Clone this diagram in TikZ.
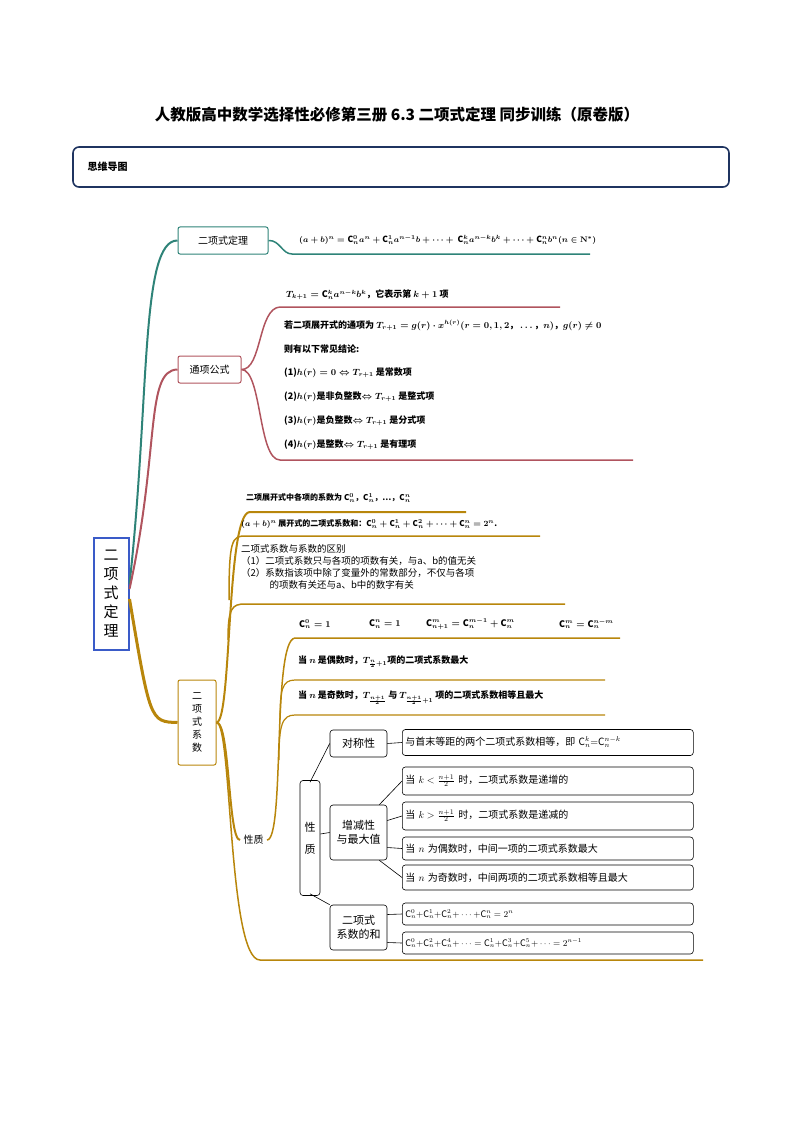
\documentclass[tikz,border=0pt]{standalone}
\usepackage{fontspec}
\setmainfont{Noto Sans CJK SC}
\usepackage{amsmath,amssymb}
\begin{document}
\begin{tikzpicture}[x=1pt,y=-1pt,
 tx/.style={anchor=west,inner sep=1pt,font=\fontsize{9}{11}\selectfont\bfseries\boldmath},
 rb/.style={draw,rounded corners=3pt,line width=0.6pt,anchor=west,text width=285,align=left,inner xsep=3pt,inner ysep=1pt,font=\fontsize{10}{12}\selectfont},
 ln/.style={line width=0.6pt}]
\useasboundingbox (0,0) rectangle (794,1123);
\definecolor{teal1}{HTML}{2E8378}\definecolor{red1}{HTML}{B0545E}\definecolor{gold1}{HTML}{B8860B}
\definecolor{navy}{HTML}{1F3460}\definecolor{blu}{HTML}{3A5BC8}
\node[font=\fontsize{15.5}{18}\selectfont\bfseries] (title) at (397,115) {人教版高中数学选择性必修第三册 6.3 二项式定理 同步训练（原卷版）};
\draw[navy,line width=1.6pt,rounded corners=6pt] (73,147) rectangle (729,187);
\node[anchor=west,font=\fontsize{10}{12}\selectfont\bfseries] (sw) at (84,167) {思维导图};
% root
\node[draw=blu,line width=2pt,minimum width=35,minimum height=112,align=center,font=\fontsize{15}{19}\selectfont,inner sep=1pt] (root) at (111,594) {二\\项\\式\\定\\理};
% branch 1
\node[draw=teal1,line width=1pt,rounded corners=2pt,minimum width=90,minimum height=27,font=\fontsize{10}{12}\selectfont] (b1) at (223,240.5) {二项式定理};
\draw[teal1,line width=2pt] (root.east) ++(0,-10) .. controls (150,400) and (140,240) .. (b1.west);
\node[tx,font=\fontsize{8.5}{11}\selectfont\bfseries\boldmath] (f1) at (298,240) {$(a+b)^n=\mathrm{C}_n^0a^n+\mathrm{C}_n^1a^{n-1}b+\dots+\ \mathrm{C}_n^ka^{n-k}b^k+\dots+\mathrm{C}_n^nb^n(n\in\mathbf{N}^*)$};
\draw[teal1,line width=1.5pt] (b1.east) .. controls (280,240) and (282,254) .. (292,254) -- (590,254);
% branch 2
\node[draw=red1,line width=1pt,rounded corners=2pt,minimum width=63,minimum height=27,font=\fontsize{10}{12}\selectfont] (b2) at (209.5,369.5) {通项公式};
\draw[red1,line width=2pt] (root.east) ++(0,-5) .. controls (160,450) and (145,370) .. (b2.west);
\draw[red1,line width=1.5pt] (b2.east) .. controls (262,370) and (258,308) .. (280,307) -- (560,307);
\draw[red1,line width=1.5pt] (b2.east) .. controls (262,370) and (258,460) .. (280,460) -- (633,460);
\node[tx] (t0) at (285,295) {$T_{k+1}=\mathrm{C}_n^ka^{n-k}b^k$，它表示第 $k+1$ 项};
\node[tx] (t1) at (283,325) {若二项展开式的通项为 $T_{r+1}=g(r)\cdot x^{h(r)}(r=0,1,2，\dots，n)$，$g(r)\neq0$};
\node[tx] (t2) at (283,349) {则有以下常见结论:};
\node[tx] (t3) at (283,373) {(1)$h(r)=0\Leftrightarrow T_{r+1}$ 是常数项};
\node[tx] (t4) at (283,397) {(2)$h(r)$是非负整数$\Leftrightarrow T_{r+1}$ 是整式项};
\node[tx] (t5) at (283,421) {(3)$h(r)$是负整数$\Leftrightarrow T_{r+1}$ 是分式项};
\node[tx] (t6) at (283,445) {(4)$h(r)$是整数$\Leftrightarrow T_{r+1}$ 是有理项};
% branch 3
\node[draw=gold1,line width=1pt,rounded corners=2pt,minimum width=38,minimum height=85,align=center,font=\fontsize{10}{13}\selectfont] (b3) at (197,722.5) {二\\项\\式\\系\\数};
\draw[gold1,line width=3pt] (root.east) ++(0,5) .. controls (150,720) and (150,722) .. (b3.west);
\draw[gold1,line width=2pt] (b3.east) .. controls (232,722) and (226,512) .. (250,512) -- (466,512);
\draw[gold1,line width=1.5pt] (229,600) .. controls (229,540) and (232,536) .. (245,536) -- (540,536);
\draw[gold1,line width=1.5pt] (228,640) .. controls (228,608) and (232,604) .. (245,604) -- (565,604);
\node[anchor=west,font=\fontsize{10}{12}\selectfont] (xz) at (240,840) {性质};
\draw[gold1,line width=2pt] (b3.east) .. controls (230,722) and (228,840) .. (xz.west);
\draw[gold1,line width=1.5pt] (b3.east) .. controls (232,722) and (228,960) .. (260,960) -- (703,960);
\draw[gold1,line width=1.5pt] (xz.east) .. controls (285,840) and (272,640) .. (295,638) -- (620,638);
\draw[gold1,line width=1.2pt] (280,720) .. controls (280,690) and (282,680) .. (295,680) -- (605,680);
\draw[gold1,line width=1.2pt] (279,760) .. controls (279,725) and (282,715) .. (295,715) -- (605,715);
\node[tx] (g1) at (245,498) {\fontsize{8}{10}\selectfont 二项展开式中各项的系数为 $\mathrm{C}_n^0$，$\mathrm{C}_n^1$，…，$\mathrm{C}_n^n$};
\node[tx] (g2) at (240,524) {\fontsize{8}{10}\selectfont $(a+b)^n$ 展开式的二项式系数和：$\mathrm{C}_n^0+\mathrm{C}_n^1+\mathrm{C}_n^2+\dots+\mathrm{C}_n^n=2^n$.};
\node[anchor=north west,align=left,inner sep=1pt,font=\fontsize{9.5}{12}\selectfont] (g3) at (240,543) {二项式系数与系数的区别\\（1）二项式系数只与各项的项数有关，与a、b的值无关\\（2）系数指该项中除了变量外的常数部分，不仅与各项\\\hspace{3em}的项数有关还与a、b中的数字有关};
\node[tx] (c1) at (298,624) {$\mathrm{C}_n^0=1$};
\node[tx] (c2) at (368,624) {$\mathrm{C}_n^n=1$};
\node[tx] (c3) at (425,624) {$\mathrm{C}_{n+1}^m=\mathrm{C}_n^{m-1}+\mathrm{C}_n^m$};
\node[tx] (c4) at (558,624) {$\mathrm{C}_n^m=\mathrm{C}_n^{n-m}$};
\node[tx] (d1) at (297,662) {当 $n$ 是偶数时，$T_{\frac n2+1}$项的二项式系数最大};
\node[tx] (d2) at (297,698) {当 $n$ 是奇数时，$T_{\frac{n+1}2}$ 与 $T_{\frac{n+1}2+1}$ 项的二项式系数相等且最大};
% table
\node[draw,rounded corners=3pt,line width=0.6pt,minimum width=20,minimum height=115,align=center,font=\fontsize{11}{22}\selectfont] (xzb) at (310,838) {性\\质};
\node[draw,rounded corners=3pt,line width=0.6pt,minimum width=57,minimum height=27,font=\fontsize{11}{13}\selectfont] (dc) at (358.5,743.5) {对称性};
\node[draw,rounded corners=3pt,line width=0.6pt,minimum width=57,minimum height=55,align=center,font=\fontsize{11}{14}\selectfont] (zj) at (358.5,832.5) {增减性\\与最大值};
\node[draw,rounded corners=3pt,line width=0.6pt,minimum width=57,minimum height=45,align=center,font=\fontsize{11}{14}\selectfont] (hs) at (358.5,927.5) {二项式\\系数的和};
\node[rb,minimum height=26] (r1) at (402,742.5) {与首末等距的两个二项式系数相等，即 $\mathrm{C}_n^k{=}\mathrm{C}_n^{n-k}$};
\node[rb,minimum height=28] (r2) at (402,781) {当 $k<\frac{n+1}2$ 时，二项式系数是递增的};
\node[rb,minimum height=28] (r3) at (402,816) {当 $k>\frac{n+1}2$ 时，二项式系数是递减的};
\node[rb,minimum height=23] (r4) at (402,848.5) {当 $n$ 为偶数时，中间一项的二项式系数最大};
\node[rb,minimum height=25] (r5) at (402,877.5) {当 $n$ 为奇数时，中间两项的二项式系数相等且最大};
\node[rb,minimum height=22,font=\fontsize{9}{11}\selectfont] (r6) at (402,914) {$\mathrm{C}_n^0{+}\mathrm{C}_n^1{+}\mathrm{C}_n^2{+}\cdots{+}\mathrm{C}_n^n=2^n$};
\node[rb,minimum height=22,font=\fontsize{9}{11}\selectfont] (r7) at (402,943) {$\mathrm{C}_n^0{+}\mathrm{C}_n^2{+}\mathrm{C}_n^4{+}\cdots=\mathrm{C}_n^1{+}\mathrm{C}_n^3{+}\mathrm{C}_n^5{+}\cdots=2^{n-1}$};
\draw[ln] (xzb.north) ++(0,2) -- (dc.west);
\draw[ln] (xzb.east) ++(0,-4) -- (zj.west);
\draw[ln] (xzb.south) ++(0,-2) -- (hs.north west);
\draw[ln] (dc.east) -- (r1.west);
\draw[ln] (zj.north east) ++(-8,0) -- (r2.west);
\draw[ln] (zj.east) ++(0,-12) -- (r3.west);
\draw[ln] (zj.east) ++(0,15) -- (r4.west);
\draw[ln] (zj.south east) ++(-8,0) -- (r5.west);
\draw[ln] (hs.east) ++(0,-13) -- (r6.west);
\draw[ln] (hs.east) ++(0,15) -- (r7.west);
\end{tikzpicture}
\end{document}
